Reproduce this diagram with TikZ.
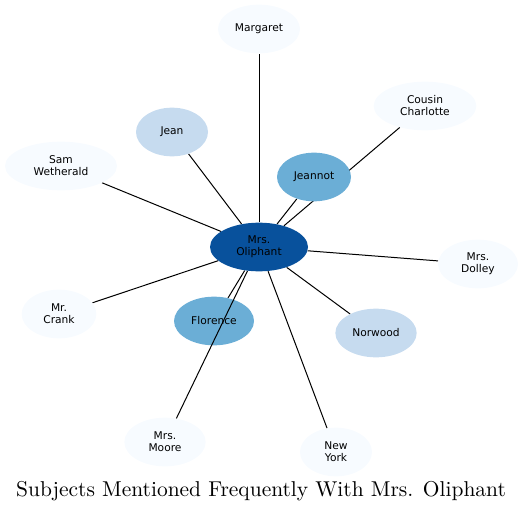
\documentclass[tikz,border=0pt]{standalone}
\usepackage{fontspec}
\newfontfamily\labelfont{DejaVu Sans}
\newfontfamily\titlefont{lmroman10-regular.otf}
\usetikzlibrary{shapes.geometric,backgrounds}
\definecolor{blueI}{HTML}{F7FBFF}
\definecolor{blueIII}{HTML}{C6DBEF}
\definecolor{blueV}{HTML}{6BAED6}
\definecolor{blueVIII}{HTML}{08519C}
\tikzset{
  person/.style={ellipse, inner sep=0pt, minimum height=36.5pt, align=center,
    font=\labelfont\fontsize{8}{9}\selectfont},
  rare/.style={person, fill=blueI},
  some/.style={person, fill=blueIII},
  often/.style={person, fill=blueV},
  link/.style={black, line width=0.75pt},
}
\begin{document}
\begin{tikzpicture}[x=0.75pt, y=-0.75pt]
    \useasboundingbox (0,0) rectangle (523,513);

    % centre
    \node[person, fill=blueVIII, minimum width=73.5pt] (oliphant) at (259,247) {Mrs.\\Oliphant};

    % people around her
    \node[rare, minimum width=61.5pt] (margaret) at (259,29) {Margaret};
    \node[rare, minimum width=77pt] (charlotte) at (425,106) {Cousin\\Charlotte};
    \node[some, minimum width=54pt] (jean) at (172,132) {Jean};
    \node[often, minimum width=55.5pt] (jeannot) at (314,177) {Jeannot};
    \node[rare, minimum width=84pt] (sam) at (61,166) {Sam\\Wetherald};
    \node[rare, minimum width=60pt] (dolley) at (478,264) {Mrs.\\Dolley};
    \node[rare, minimum width=56pt] (crank) at (59,314) {Mr.\\Crank};
    \node[often, minimum width=60pt] (florence) at (214,321) {Florence};
    \node[some, minimum width=61pt] (norwood) at (376,333) {Norwood};
    \node[rare, minimum width=61pt] (moore) at (165,442) {Mrs.\\Moore};
    \node[rare, minimum width=54pt] (newyork) at (336,452) {New\\York};

    % links behind the nodes
    \begin{scope}[on background layer]
        \draw[link] (oliphant) -- (margaret);
        \draw[link] (oliphant) -- (charlotte);
        \draw[link] (oliphant) -- (jean);
        \draw[link] (oliphant) -- (jeannot);
        \draw[link] (oliphant) -- (sam);
        \draw[link] (oliphant) -- (dolley);
        \draw[link] (oliphant) -- (crank);
        \draw[link] (oliphant) -- (florence);
        \draw[link] (oliphant) -- (norwood);
        \draw[link] (oliphant) -- (newyork);
    \end{scope}
    % this one runs over Florence
    \draw[link] (oliphant) -- (moore);

    \node (title) at (261,491) {\titlefont\fontsize{16.1}{18}\selectfont Subjects Mentioned Frequently With Mrs. Oliphant};
\end{tikzpicture}
\end{document}
